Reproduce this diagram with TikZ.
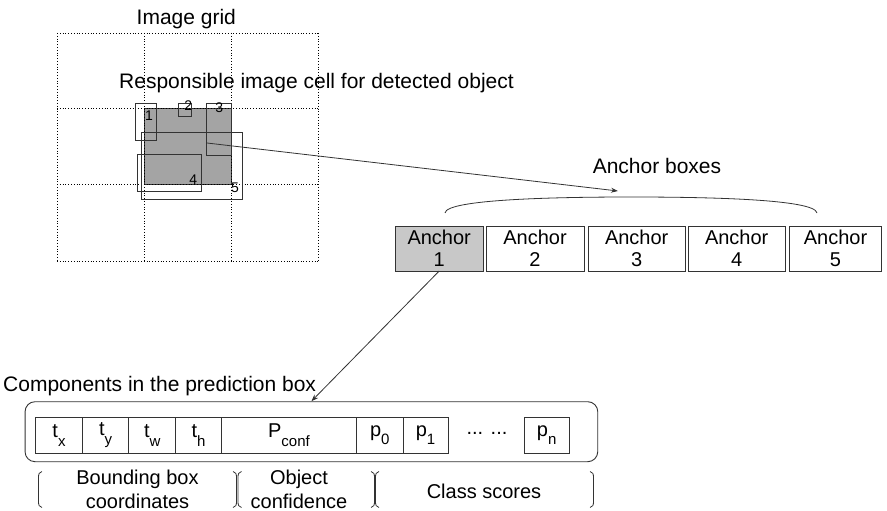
\documentclass[tikz,border=0pt]{standalone}
\usepackage{fontspec}
\setmainfont{Liberation Sans}
\usetikzlibrary{positioning,arrows.meta}
\definecolor{cell-gray}{HTML}{A4A4A4}
\definecolor{anchor-gray}{HTML}{C8C8C8}
\definecolor{line-dark}{HTML}{333333}
% lowered index as in the drawing
\newcommand{\lowidx}[1]{\raisebox{-8.5pt}{\fontsize{15}{15}\selectfont #1}}

\begin{document}
\begin{tikzpicture}[x=1pt, y=-1pt, >={Stealth[length=7pt,width=5pt]},
      every node/.style={font=\fontsize{21}{23}\selectfont, inner sep=0pt},
      gridline/.style={dotted, thick, black},
      bbox/.style={line-dark, line width=0.9pt},
      link/.style={line-dark, line width=0.8pt},
      anchorbox/.style={draw=line-dark, line width=1pt, align=center,
        minimum height=45, outer sep=0pt, font=\fontsize{20}{22}\selectfont},
      cellbox/.style={draw=line-dark, line width=0.9pt, minimum height=36,
        minimum width=46.6, outer sep=0pt, font=\fontsize{20}{22}\selectfont},
      bracket/.style={line-dark, line width=0.8pt},
      twoline/.style={align=center, font=\fontsize{20}{23.3}\selectfont}]
    \useasboundingbox (0,0) rectangle (887,511);

    % image grid
    \fill[cell-gray, draw=line-dark, line width=0.8pt] (144,108) rectangle (231,184);
    \foreach \gx in {57,144,231,318}
      \draw[gridline] (\gx,33) -- (\gx,261);
    \foreach \gy in {33,108,184,261}
      \draw[gridline] (57,\gy) -- (318,\gy);
    \node[anchor=base] (gridlbl) at (186.3,25) {Image grid};
    \node[anchor=base west] (resplbl) at (119,88.3) {Responsible image cell for detected object};

    % the five boxes on the cell
    \draw[bbox] (135.7,103.3) rectangle (156.7,140);
    \draw[bbox] (178.3,103.3) rectangle (191,116.7);
    \draw[bbox] (206.7,103.3) rectangle (231.7,155);
    \draw[bbox] (137.3,154.3) rectangle (201.7,191.7);
    \draw[bbox] (141.7,132.3) rectangle (242.7,199.3);
    \node[font=\fontsize{14}{14}\selectfont] (lab1) at (149,116) {1};
    \node[font=\fontsize{14}{14}\selectfont] (lab2) at (188.3,106) {2};
    \node[font=\fontsize{14}{14}\selectfont] (lab3) at (219.3,107.5) {3};
    \node[font=\fontsize{14}{14}\selectfont] (lab4) at (193.3,180) {4};
    \node[font=\fontsize{14}{14}\selectfont] (lab5) at (235,188) {5};

    % anchor boxes
    \node[anchor=base] (anclbl) at (657,173.3) {Anchor boxes};
    \draw[link] (445,213) .. controls (446,199) and (560,197) .. (631,197)
                .. controls (705,197) and (815,199) .. (817,213);
    \node[anchorbox, fill=anchor-gray, minimum width=88.3] (anc1) at (439.2,248.5) {Anchor\\1};
    \node[anchorbox, minimum width=98, right=2.7pt of anc1] (anc2) {Anchor\\2};
    \node[anchorbox, minimum width=96.7, right=4.3pt of anc2] (anc3) {Anchor\\3};
    \node[anchorbox, minimum width=96.7, right=3.3pt of anc3] (anc4) {Anchor\\4};
    \node[anchorbox, minimum width=92.4, right=4.3pt of anc4] (anc5) {Anchor\\5};

    \coordinate (src) at (207,143);
    \coordinate (brace) at (618,191);
    \draw[link, ->] (src) -- (brace);

    % prediction box
    \node[anchor=base west] (complbl) at (3,391.7) {Components in the prediction box};
    \node[draw=line-dark, line width=0.9pt, rounded corners=10,
          minimum width=572.7, minimum height=60] (pred) at (311.4,431.7) {};
    \draw[link, ->] (anc1.south) -- (pred.north);

    \node[cellbox, anchor=west] (tx) at (35.7,435.3) {t\lowidx{x}};
    \node[cellbox, right=0pt of tx] (ty) {t\lowidx{y}};
    \node[cellbox, right=0pt of ty] (tw) {t\lowidx{w}};
    \node[cellbox, minimum width=46, right=0pt of tw] (th) {t\lowidx{h}};
    \node[cellbox, minimum width=135, right=0pt of th] (pconf) {P\lowidx{conf}};
    \node[cellbox, right=0pt of pconf] (p0) {p\lowidx{0}};
    \node[cellbox, minimum width=45, right=0pt of p0] (p1) {p\lowidx{1}};
    \node[font=\fontsize{20}{22}\selectfont] (dots) at (487,433) {... ...};
    \node[cellbox, minimum width=45.3, anchor=west] (pn) at (524,435.3) {p\lowidx{n}};

    % groups under the box
    \draw[bracket] (42,471.5) .. controls (39,472) and (38.5,474) .. (38.5,478)
        -- (38.5,501) .. controls (38.5,505) and (39,507) .. (42,507.5);
    \draw[bracket] (233,471.5) .. controls (236,472) and (236.5,474) .. (236.5,478)
        -- (236.5,501) .. controls (236.5,505) and (236,507) .. (233,507.5);
    \draw[bracket] (241.5,471.5) .. controls (238.5,472) and (238,474) .. (238,478)
        -- (238,501) .. controls (238,505) and (238.5,507) .. (241.5,507.5);
    \draw[bracket] (371,471.5) .. controls (374,472) and (374.5,474) .. (374.5,478)
        -- (374.5,501) .. controls (374.5,505) and (374,507) .. (371,507.5);
    \draw[bracket] (379,471.5) .. controls (376,472) and (375.5,474) .. (375.5,478)
        -- (375.5,501) .. controls (375.5,505) and (376,507) .. (379,507.5);
    \draw[bracket] (590,471.5) .. controls (593,472) and (593.5,474) .. (593.5,478)
        -- (593.5,501) .. controls (593.5,505) and (593,507) .. (590,507.5);
    \node[twoline] (bboxlbl) at (137.5,489.4) {Bounding box\\coordinates};
    \node[twoline] (conflbl) at (299,489.4) {Object\\confidence};
    \node[anchor=base, font=\fontsize{20}{22}\selectfont] (clslbl) at (484,498.3) {Class scores};
  \end{tikzpicture}
\end{document}
